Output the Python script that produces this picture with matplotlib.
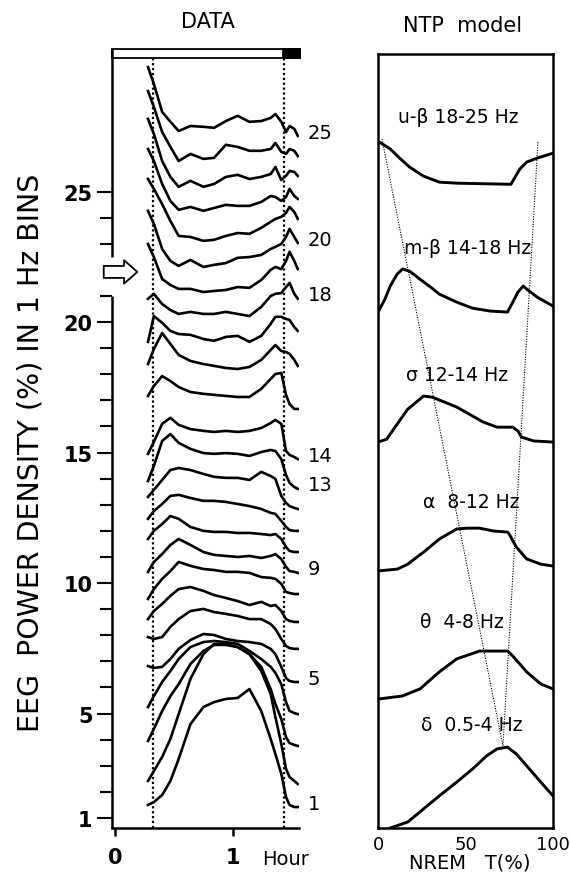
import numpy as np
import matplotlib.pyplot as plt
from matplotlib.patches import Rectangle

plt.rcParams['font.family'] = ['DejaVu Sans']

# ---- left panel: stacked EEG power curves (1 Hz bins), time in hours
hours = [0.28, 0.33, 0.40, 0.47, 0.54, 0.64, 0.75, 0.84, 0.94, 1.04,
         1.14, 1.24, 1.32, 1.36, 1.41, 1.45, 1.48, 1.52, 1.55]

bin01 = [1.50, 1.61, 1.88, 2.42, 3.26, 4.60, 5.25, 5.44, 5.56, 5.60, 5.94, 5.10, 4.03, 3.45, 2.69, 1.80, 1.50, 1.42, 1.42]
bin02 = [2.42, 2.80, 3.34, 4.03, 4.98, 6.33, 7.28, 7.67, 7.67, 7.55, 7.28, 6.63, 5.75, 4.87, 3.84, 2.88, 2.57, 2.42, 2.30]
bin03 = [3.95, 4.41, 5.10, 5.67, 6.13, 6.90, 7.40, 7.63, 7.63, 7.55, 7.28, 6.79, 5.94, 5.37, 4.79, 4.10, 3.87, 3.80, 3.76]
bin04 = [5.25, 5.67, 6.21, 6.63, 7.09, 7.55, 7.74, 7.78, 7.74, 7.67, 7.40, 7.09, 6.79, 6.56, 6.13, 5.44, 5.10, 5.02, 4.98]
bin05 = [6.82, 6.75, 6.79, 7.09, 7.48, 7.82, 8.05, 8.01, 7.86, 7.78, 7.74, 7.67, 7.48, 7.28, 6.79, 6.36, 6.25, 6.21, 6.21]
bin06 = [7.93, 7.86, 7.93, 8.32, 8.62, 8.93, 9.01, 8.89, 8.82, 8.74, 8.62, 8.62, 8.43, 8.24, 7.86, 7.59, 7.51, 7.48, 7.48]
bin07 = [8.62, 8.93, 9.20, 9.51, 9.77, 9.85, 9.70, 9.54, 9.43, 9.31, 9.16, 9.28, 9.12, 9.16, 8.93, 8.62, 8.55, 8.51, 8.51]
bin08 = [9.39, 9.77, 10.16, 10.46, 10.81, 10.66, 10.54, 10.50, 10.43, 10.43, 10.39, 10.23, 10.20, 10.16, 9.97, 9.66, 9.62, 9.58, 9.58]
bin09 = [10.43, 10.81, 11.11, 11.46, 11.69, 11.46, 11.19, 11.08, 11.04, 11.00, 11.04, 10.96, 11.04, 11.11, 10.92, 10.62, 10.46, 10.43, 10.39]
bin10 = [11.69, 12.00, 12.26, 12.57, 12.46, 12.15, 12.00, 11.96, 11.96, 11.92, 11.92, 11.88, 11.84, 11.88, 11.69, 11.38, 11.23, 11.19, 11.19]
bin11 = [12.46, 12.76, 13.03, 13.34, 13.38, 13.26, 13.15, 13.15, 13.11, 13.03, 12.95, 12.84, 12.69, 12.65, 12.38, 12.15, 12.03, 12.00, 12.00]
bin12 = [13.30, 13.57, 13.95, 14.33, 14.41, 14.33, 14.18, 14.07, 14.03, 14.03, 13.95, 14.26, 14.10, 13.99, 13.34, 13.07, 12.95, 12.88, 12.84]
bin13 = [13.91, 14.49, 15.44, 15.71, 15.37, 15.14, 14.98, 14.95, 14.98, 14.95, 14.87, 15.02, 15.10, 15.06, 14.75, 14.14, 13.84, 13.68, 13.61]
bin14 = [14.95, 15.41, 16.10, 16.33, 16.06, 15.90, 15.83, 15.79, 15.83, 15.79, 15.83, 15.94, 16.13, 16.25, 16.10, 15.06, 14.91, 14.83, 14.75]
bin15 = [17.17, 17.55, 17.93, 17.74, 17.51, 17.32, 17.25, 17.21, 17.17, 17.13, 17.13, 17.44, 17.82, 18.01, 18.05, 17.21, 16.86, 16.67, 16.67]
bin16 = [18.39, 18.97, 19.58, 19.16, 18.74, 18.51, 18.39, 18.32, 18.24, 18.20, 18.28, 18.55, 18.93, 19.12, 18.89, 18.85, 18.78, 18.55, 18.32]
bin17 = [19.24, 20.23, 19.97, 19.66, 19.54, 19.51, 19.35, 19.28, 19.43, 19.47, 19.24, 19.47, 19.93, 20.20, 20.20, 20.12, 20.08, 19.81, 19.66]
bin18 = [20.89, 21.08, 20.69, 20.46, 20.31, 20.39, 20.31, 20.31, 20.39, 20.31, 20.23, 20.58, 21.00, 21.08, 21.11, 21.34, 21.50, 21.08, 20.89]
bin19 = [22.99, 22.49, 21.65, 21.42, 21.27, 21.27, 21.15, 21.19, 21.23, 21.34, 21.31, 21.61, 22.00, 22.11, 22.03, 22.34, 22.69, 22.34, 22.03]
bin20 = [24.26, 23.76, 22.80, 22.34, 22.15, 22.38, 22.11, 22.19, 22.26, 22.46, 22.49, 22.57, 22.80, 22.88, 22.99, 23.26, 23.57, 23.26, 23.03]
bin21 = [25.48, 25.10, 24.52, 23.87, 23.30, 23.26, 23.11, 23.15, 23.30, 23.41, 23.38, 23.61, 23.84, 23.95, 24.03, 24.18, 24.41, 24.22, 23.95]
bin22 = [26.63, 26.17, 25.29, 24.64, 24.30, 24.41, 24.26, 24.37, 24.49, 24.45, 24.45, 24.60, 24.83, 24.79, 24.64, 24.79, 25.10, 24.83, 24.72]
bin23 = [27.78, 27.21, 26.17, 25.56, 25.18, 25.41, 25.18, 25.29, 25.56, 25.64, 25.48, 25.56, 25.67, 25.94, 25.44, 25.60, 25.79, 25.75, 25.60]
bin24 = [28.85, 28.24, 27.28, 26.71, 26.17, 26.44, 26.25, 26.29, 26.79, 26.71, 26.56, 26.56, 26.63, 26.86, 26.52, 26.44, 26.63, 26.56, 26.36]
bin25 = [29.77, 29.12, 28.05, 27.67, 27.32, 27.51, 27.48, 27.44, 27.70, 27.90, 27.67, 27.70, 27.82, 27.97, 27.67, 27.28, 27.51, 27.40, 27.13]

bins = [bin01, bin02, bin03, bin04, bin05, bin06, bin07, bin08, bin09, bin10,
        bin11, bin12, bin13, bin14, bin15, bin16, bin17, bin18, bin19, bin20,
        bin21, bin22, bin23, bin24, bin25]
labelled_bins = [1, 5, 9, 13, 14, 18, 20, 25]

nrem_start = 0.325
nrem_end = 1.435
rem_end = 1.57

# ---- right panel: NTP model profiles, x = NREM T(%)
delta_x = [7, 17, 26, 35, 45, 54, 62, 68, 74, 79, 85, 93, 100]
delta_y = [0.00, 0.23, 0.73, 1.23, 1.76, 2.26, 2.76, 3.03, 3.10, 2.84, 2.38, 1.76, 1.23]
theta_x = [0, 14, 24, 35, 45, 58, 74, 77, 85, 93, 100]
theta_y = [4.94, 5.06, 5.33, 5.98, 6.48, 6.78, 6.78, 6.59, 5.98, 5.52, 5.33]
alpha_x = [0, 11, 17, 26, 35, 45, 51, 58, 66, 74, 75, 79, 85, 93, 100]
alpha_y = [9.85, 9.92, 10.11, 10.57, 11.07, 11.46, 11.49, 11.49, 11.38, 11.34, 11.26, 10.77, 10.31, 10.11, 10.04]
sigma_x = [0, 5, 9, 17, 26, 31, 45, 60, 68, 77, 80, 82, 89, 100]
sigma_y = [14.79, 14.90, 15.29, 16.05, 16.55, 16.51, 16.13, 15.56, 15.36, 15.36, 15.21, 14.98, 14.83, 14.79]
mbeta_x = [0, 4, 7, 11, 14, 18, 24, 30, 35, 45, 54, 64, 74, 77, 80, 83, 85, 91, 100]
mbeta_y = [19.77, 20.27, 20.77, 21.23, 21.42, 21.34, 21.03, 20.73, 20.46, 20.15, 19.92, 19.81, 19.77, 20.15, 20.54, 20.77, 20.65, 20.34, 20.00]
ubeta_x = [0, 7, 13, 18, 26, 35, 45, 74, 76, 81, 85, 91, 100]
ubeta_y = [26.32, 26.02, 25.63, 25.33, 24.98, 24.75, 24.71, 24.67, 24.67, 25.25, 25.52, 25.67, 25.86]

band_names = ['δ  0.5-4 Hz', 'θ  4-8 Hz', 'α  8-12 Hz', 'σ 12-14 Hz', 'm-β 14-18 Hz', 'u-β 18-25 Hz']
band_name_x = [53.4, 47.7, 53.1, 44.9, 51.1, 46.0]
band_name_y = [3.98, 7.93, 12.53, 17.39, 22.26, 27.28]

early_peak_x = [2.3, 71.4]
early_peak_y = [26.40, 3.14]
late_peak_x = [91.4, 71.4]
late_peak_y = [26.28, 3.14]

W, H = 570, 878
fig = plt.figure(figsize=(W / 100, H / 100), dpi=100)

# ================= left panel
ax = fig.add_axes([112 / W, 1 - 829 / H, 187 / W, 779 / H])
x0, x1 = -0.025, 1.56
y0, y1 = 0.617, 30.46
ax.set_xlim(x0, x1)
ax.set_ylim(y0, y1)

for c in bins:
    ax.plot(hours, c, color='k', lw=1.9)

ax.vlines([nrem_start, nrem_end], y0, 30.12, colors='k', lw=1.6,
          linestyles=(0, (1, 1.2)))

# sleep stage bar on top (NREM white, REM black)
ax.add_patch(Rectangle((x0, 30.12), rem_end - x0, y1 - 30.12, fc='white',
                       ec='k', lw=1.3, clip_on=False))
ax.add_patch(Rectangle((nrem_end - 0.01, 30.12), rem_end - nrem_end + 0.01,
                       y1 - 30.12, fc='k', ec='k', lw=1.3, clip_on=False))

for s in ['top', 'right', 'left']:
    ax.spines[s].set_visible(False)
ax.spines['bottom'].set_linewidth(1.8)
# left axis line, interrupted at the arrow
ax.vlines([x0, x0], [y0, 22.5], [21.0, y1], colors='k', lw=1.8, clip_on=False)

ax.set_yticks([1, 5, 10, 15, 20, 25])
ax.set_yticks([i for i in range(1, 26) if i not in (1, 5, 10, 15, 20, 22, 25)], minor=True)
ax.tick_params(axis='y', which='major', length=11, width=1.5, pad=3, labelsize=15)
ax.tick_params(axis='y', which='minor', length=9, width=1.5)
for lbl in ax.get_yticklabels():
    lbl.set_fontweight('bold')
ax.set_xticks([0, 1])
ax.set_xticklabels(['0', '1'], fontweight='bold')
ax.tick_params(axis='x', length=6, width=1.8, pad=8, labelsize=15)

for k in labelled_bins:
    ax.text(1.635, bins[k - 1][-1] + 0.15, str(k), fontsize=14,
            ha='left', va='center', clip_on=False)

ax.annotate('', xy=(0.19, 21.92), xytext=(-0.095, 21.92),
            arrowprops=dict(arrowstyle='simple,head_length=0.8,head_width=1.4,tail_width=0.72',
                            mutation_scale=12, fc='white', ec='k', lw=1.3,
                            shrinkA=0, shrinkB=0),
            annotation_clip=False)

fig.text(208 / W, 1 - 28 / H, 'DATA', ha='center', va='baseline', fontsize=15)
fig.text(31 / W, 1 - 453 / H, 'EEG  POWER DENSITY (%) IN 1 Hz BINS',
         rotation=90, ha='center', va='center', fontsize=20.5)
fig.text(262 / W, 1 - 865 / H, 'Hour', ha='left', va='baseline', fontsize=14)

# ================= right panel
ax2 = fig.add_axes([378 / W, 1 - 829 / H, 175 / W, 774 / H])
ax2.set_xlim(0, 100)
ax2.set_ylim(0, 29.66)
for bx, by in [(delta_x, delta_y), (theta_x, theta_y), (alpha_x, alpha_y),
               (sigma_x, sigma_y), (mbeta_x, mbeta_y), (ubeta_x, ubeta_y)]:
    ax2.plot(bx, by, color='k', lw=2.1)
ax2.plot(early_peak_x, early_peak_y, color='k', lw=0.8, ls=(0, (1, 1.3)))
ax2.plot(late_peak_x, late_peak_y, color='k', lw=0.8, ls=(0, (1, 1.3)))
for name, tx, ty in zip(band_names, band_name_x, band_name_y):
    ax2.text(tx, ty, name, ha='center', va='center', fontsize=13.5)

for s in ax2.spines.values():
    s.set_linewidth(1.8)
ax2.set_yticks([])
ax2.set_xticks([0, 50, 100])
ax2.tick_params(axis='x', length=0, pad=5, labelsize=13)

fig.text(463 / W, 1 - 32 / H, 'NTP  model', ha='center', va='baseline', fontsize=15)
fig.text(470 / W, 1 - 869 / H, 'NREM   T(%)', ha='center', va='baseline', fontsize=14)

fig.savefig('out.png', dpi=100)
